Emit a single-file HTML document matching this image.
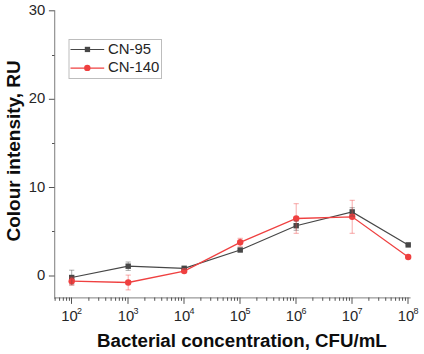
<!DOCTYPE html>
<html><head><meta charset="utf-8"><style>
html,body{margin:0;padding:0;background:#fff;width:424px;height:354px;overflow:hidden}
svg{display:block;font-family:"Liberation Sans",sans-serif;fill:#000}
text{fill:#262626}
text[font-weight=bold]{fill:#0d0d0d}
</style></head><body>
<svg width="424" height="354" viewBox="0 0 424 354">
<line x1="54.65" y1="10.2" x2="54.65" y2="298.5" stroke="#999" stroke-width="1.3"/>
<line x1="54" y1="297.85" x2="410.6" y2="297.85" stroke="#999" stroke-width="1.3"/>
<line x1="48.9" y1="276.00" x2="54.5" y2="276.00" stroke="#4a4a4a" stroke-width="0.95"/>
<line x1="48.9" y1="187.50" x2="54.5" y2="187.50" stroke="#4a4a4a" stroke-width="0.95"/>
<line x1="48.9" y1="99.30" x2="54.5" y2="99.30" stroke="#4a4a4a" stroke-width="0.95"/>
<line x1="48.9" y1="10.80" x2="54.5" y2="10.80" stroke="#4a4a4a" stroke-width="0.95"/>
<line x1="52.0" y1="231.50" x2="54.5" y2="231.50" stroke="#4a4a4a" stroke-width="0.95"/>
<line x1="52.0" y1="143.50" x2="54.5" y2="143.50" stroke="#4a4a4a" stroke-width="0.95"/>
<line x1="52.0" y1="55.50" x2="54.5" y2="55.50" stroke="#4a4a4a" stroke-width="0.95"/>
<line x1="71.50" y1="297.5" x2="71.50" y2="303.9" stroke="#4a4a4a" stroke-width="0.95"/>
<line x1="128.00" y1="297.5" x2="128.00" y2="303.9" stroke="#4a4a4a" stroke-width="0.95"/>
<line x1="184.00" y1="297.5" x2="184.00" y2="303.9" stroke="#4a4a4a" stroke-width="0.95"/>
<line x1="240.00" y1="297.5" x2="240.00" y2="303.9" stroke="#4a4a4a" stroke-width="0.95"/>
<line x1="296.00" y1="297.5" x2="296.00" y2="303.9" stroke="#4a4a4a" stroke-width="0.95"/>
<line x1="352.00" y1="297.5" x2="352.00" y2="303.9" stroke="#4a4a4a" stroke-width="0.95"/>
<line x1="408.00" y1="297.5" x2="408.00" y2="303.9" stroke="#4a4a4a" stroke-width="0.95"/>
<line x1="55.14" y1="297.5" x2="55.14" y2="300.8" stroke="#4a4a4a" stroke-width="0.95"/>
<line x1="59.58" y1="297.5" x2="59.58" y2="300.8" stroke="#4a4a4a" stroke-width="0.95"/>
<line x1="63.33" y1="297.5" x2="63.33" y2="300.8" stroke="#4a4a4a" stroke-width="0.95"/>
<line x1="66.57" y1="297.5" x2="66.57" y2="300.8" stroke="#4a4a4a" stroke-width="0.95"/>
<line x1="69.44" y1="297.5" x2="69.44" y2="300.8" stroke="#4a4a4a" stroke-width="0.95"/>
<line x1="88.86" y1="297.5" x2="88.86" y2="300.8" stroke="#4a4a4a" stroke-width="0.95"/>
<line x1="98.72" y1="297.5" x2="98.72" y2="300.8" stroke="#4a4a4a" stroke-width="0.95"/>
<line x1="105.72" y1="297.5" x2="105.72" y2="300.8" stroke="#4a4a4a" stroke-width="0.95"/>
<line x1="111.14" y1="297.5" x2="111.14" y2="300.8" stroke="#4a4a4a" stroke-width="0.95"/>
<line x1="115.58" y1="297.5" x2="115.58" y2="300.8" stroke="#4a4a4a" stroke-width="0.95"/>
<line x1="119.33" y1="297.5" x2="119.33" y2="300.8" stroke="#4a4a4a" stroke-width="0.95"/>
<line x1="122.57" y1="297.5" x2="122.57" y2="300.8" stroke="#4a4a4a" stroke-width="0.95"/>
<line x1="125.44" y1="297.5" x2="125.44" y2="300.8" stroke="#4a4a4a" stroke-width="0.95"/>
<line x1="144.86" y1="297.5" x2="144.86" y2="300.8" stroke="#4a4a4a" stroke-width="0.95"/>
<line x1="154.72" y1="297.5" x2="154.72" y2="300.8" stroke="#4a4a4a" stroke-width="0.95"/>
<line x1="161.72" y1="297.5" x2="161.72" y2="300.8" stroke="#4a4a4a" stroke-width="0.95"/>
<line x1="167.14" y1="297.5" x2="167.14" y2="300.8" stroke="#4a4a4a" stroke-width="0.95"/>
<line x1="171.58" y1="297.5" x2="171.58" y2="300.8" stroke="#4a4a4a" stroke-width="0.95"/>
<line x1="175.33" y1="297.5" x2="175.33" y2="300.8" stroke="#4a4a4a" stroke-width="0.95"/>
<line x1="178.57" y1="297.5" x2="178.57" y2="300.8" stroke="#4a4a4a" stroke-width="0.95"/>
<line x1="181.44" y1="297.5" x2="181.44" y2="300.8" stroke="#4a4a4a" stroke-width="0.95"/>
<line x1="200.86" y1="297.5" x2="200.86" y2="300.8" stroke="#4a4a4a" stroke-width="0.95"/>
<line x1="210.72" y1="297.5" x2="210.72" y2="300.8" stroke="#4a4a4a" stroke-width="0.95"/>
<line x1="217.72" y1="297.5" x2="217.72" y2="300.8" stroke="#4a4a4a" stroke-width="0.95"/>
<line x1="223.14" y1="297.5" x2="223.14" y2="300.8" stroke="#4a4a4a" stroke-width="0.95"/>
<line x1="227.58" y1="297.5" x2="227.58" y2="300.8" stroke="#4a4a4a" stroke-width="0.95"/>
<line x1="231.33" y1="297.5" x2="231.33" y2="300.8" stroke="#4a4a4a" stroke-width="0.95"/>
<line x1="234.57" y1="297.5" x2="234.57" y2="300.8" stroke="#4a4a4a" stroke-width="0.95"/>
<line x1="237.44" y1="297.5" x2="237.44" y2="300.8" stroke="#4a4a4a" stroke-width="0.95"/>
<line x1="256.86" y1="297.5" x2="256.86" y2="300.8" stroke="#4a4a4a" stroke-width="0.95"/>
<line x1="266.72" y1="297.5" x2="266.72" y2="300.8" stroke="#4a4a4a" stroke-width="0.95"/>
<line x1="273.72" y1="297.5" x2="273.72" y2="300.8" stroke="#4a4a4a" stroke-width="0.95"/>
<line x1="279.14" y1="297.5" x2="279.14" y2="300.8" stroke="#4a4a4a" stroke-width="0.95"/>
<line x1="283.58" y1="297.5" x2="283.58" y2="300.8" stroke="#4a4a4a" stroke-width="0.95"/>
<line x1="287.33" y1="297.5" x2="287.33" y2="300.8" stroke="#4a4a4a" stroke-width="0.95"/>
<line x1="290.57" y1="297.5" x2="290.57" y2="300.8" stroke="#4a4a4a" stroke-width="0.95"/>
<line x1="293.44" y1="297.5" x2="293.44" y2="300.8" stroke="#4a4a4a" stroke-width="0.95"/>
<line x1="312.86" y1="297.5" x2="312.86" y2="300.8" stroke="#4a4a4a" stroke-width="0.95"/>
<line x1="322.72" y1="297.5" x2="322.72" y2="300.8" stroke="#4a4a4a" stroke-width="0.95"/>
<line x1="329.72" y1="297.5" x2="329.72" y2="300.8" stroke="#4a4a4a" stroke-width="0.95"/>
<line x1="335.14" y1="297.5" x2="335.14" y2="300.8" stroke="#4a4a4a" stroke-width="0.95"/>
<line x1="339.58" y1="297.5" x2="339.58" y2="300.8" stroke="#4a4a4a" stroke-width="0.95"/>
<line x1="343.33" y1="297.5" x2="343.33" y2="300.8" stroke="#4a4a4a" stroke-width="0.95"/>
<line x1="346.57" y1="297.5" x2="346.57" y2="300.8" stroke="#4a4a4a" stroke-width="0.95"/>
<line x1="349.44" y1="297.5" x2="349.44" y2="300.8" stroke="#4a4a4a" stroke-width="0.95"/>
<line x1="368.86" y1="297.5" x2="368.86" y2="300.8" stroke="#4a4a4a" stroke-width="0.95"/>
<line x1="378.72" y1="297.5" x2="378.72" y2="300.8" stroke="#4a4a4a" stroke-width="0.95"/>
<line x1="385.72" y1="297.5" x2="385.72" y2="300.8" stroke="#4a4a4a" stroke-width="0.95"/>
<line x1="391.14" y1="297.5" x2="391.14" y2="300.8" stroke="#4a4a4a" stroke-width="0.95"/>
<line x1="395.58" y1="297.5" x2="395.58" y2="300.8" stroke="#4a4a4a" stroke-width="0.95"/>
<line x1="399.33" y1="297.5" x2="399.33" y2="300.8" stroke="#4a4a4a" stroke-width="0.95"/>
<line x1="402.57" y1="297.5" x2="402.57" y2="300.8" stroke="#4a4a4a" stroke-width="0.95"/>
<line x1="405.44" y1="297.5" x2="405.44" y2="300.8" stroke="#4a4a4a" stroke-width="0.95"/>
<text x="45.3" y="279.90" text-anchor="end" font-size="14.8">0</text>
<text x="45.3" y="191.65" text-anchor="end" font-size="14.8">10</text>
<text x="45.3" y="103.40" text-anchor="end" font-size="14.8">20</text>
<text x="45.3" y="15.15" text-anchor="end" font-size="14.8">30</text>
<text x="61.20" y="320.6" font-size="14.8" transform="translate(0,320.6) scale(1,1.05) translate(0,-320.6)">10<tspan dy="-6.0" dx="-0.6" font-size="9.0">2</tspan></text>
<text x="117.70" y="320.6" font-size="14.8" transform="translate(0,320.6) scale(1,1.05) translate(0,-320.6)">10<tspan dy="-6.0" dx="-0.6" font-size="9.0">3</tspan></text>
<text x="173.70" y="320.6" font-size="14.8" transform="translate(0,320.6) scale(1,1.05) translate(0,-320.6)">10<tspan dy="-6.0" dx="-0.6" font-size="9.0">4</tspan></text>
<text x="229.70" y="320.6" font-size="14.8" transform="translate(0,320.6) scale(1,1.05) translate(0,-320.6)">10<tspan dy="-6.0" dx="-0.6" font-size="9.0">5</tspan></text>
<text x="285.70" y="320.6" font-size="14.8" transform="translate(0,320.6) scale(1,1.05) translate(0,-320.6)">10<tspan dy="-6.0" dx="-0.6" font-size="9.0">6</tspan></text>
<text x="341.70" y="320.6" font-size="14.8" transform="translate(0,320.6) scale(1,1.05) translate(0,-320.6)">10<tspan dy="-6.0" dx="-0.6" font-size="9.0">7</tspan></text>
<text x="397.70" y="320.6" font-size="14.8" transform="translate(0,320.6) scale(1,1.05) translate(0,-320.6)">10<tspan dy="-6.0" dx="-0.6" font-size="9.0">8</tspan></text>
<text x="97" y="346.8" font-size="18.7" font-weight="bold">Bacterial concentration, CFU/mL</text>
<text transform="translate(20.2,241.5) rotate(-90)" x="0" y="0" font-size="19.0" font-weight="bold">Colour intensity, RU</text>
<rect x="69.0" y="39.5" width="92.5" height="39" fill="#fff" stroke="#bdbdbd" stroke-width="1"/>
<line x1="70.5" y1="49.5" x2="104.2" y2="49.5" stroke="#474747" stroke-width="1.1"/>
<rect x="84.8" y="46.8" width="5.3" height="5.3" fill="#474747"/>
<line x1="70.5" y1="68.1" x2="104.2" y2="68.1" stroke="#ef4040" stroke-width="1.1"/>
<circle cx="87.3" cy="67.9" r="3.2" fill="#ef4040"/>
<text x="108" y="53.8" font-size="14.9">CN-95</text>
<text x="108" y="72" font-size="14.9">CN-140</text>
<polyline points="71.70,277.50 128.20,266.20 184.20,268.30 240.20,250.00 296.20,225.70 352.20,211.90 408.20,244.90" fill="none" stroke="#474747" stroke-width="1.2"/>
<rect x="69.00" y="274.80" width="5.4" height="5.4" fill="#474747"/>
<rect x="125.50" y="263.50" width="5.4" height="5.4" fill="#474747"/>
<rect x="181.50" y="265.60" width="5.4" height="5.4" fill="#474747"/>
<rect x="237.50" y="247.30" width="5.4" height="5.4" fill="#474747"/>
<rect x="293.50" y="223.00" width="5.4" height="5.4" fill="#474747"/>
<rect x="349.50" y="209.20" width="5.4" height="5.4" fill="#474747"/>
<rect x="405.50" y="242.20" width="5.4" height="5.4" fill="#474747"/>
<polyline points="71.70,281.20 128.20,282.50 184.20,271.10 240.20,242.30 296.20,218.50 352.20,216.80 408.20,257.00" fill="none" stroke="#ef4040" stroke-width="1.3"/>
<circle cx="71.70" cy="281.20" r="3.2" fill="#ef4040"/>
<circle cx="128.20" cy="282.50" r="3.2" fill="#ef4040"/>
<circle cx="184.20" cy="271.10" r="3.2" fill="#ef4040"/>
<circle cx="240.20" cy="242.30" r="3.2" fill="#ef4040"/>
<circle cx="296.20" cy="218.50" r="3.2" fill="#ef4040"/>
<circle cx="352.20" cy="216.80" r="3.2" fill="#ef4040"/>
<circle cx="408.20" cy="257.00" r="3.2" fill="#ef4040"/>
<path d="M71.70 270.20V284.80M69.10 270.20H74.30M69.10 284.80H74.30" fill="none" stroke="#474747" stroke-width="0.9" opacity="0.5"/>
<path d="M128.20 262.00V270.40M125.60 262.00H130.80M125.60 270.40H130.80" fill="none" stroke="#474747" stroke-width="0.9" opacity="0.5"/>
<path d="M184.20 267.30V269.30M181.60 267.30H186.80M181.60 269.30H186.80" fill="none" stroke="#474747" stroke-width="0.9" opacity="0.5"/>
<path d="M240.20 249.00V251.00M237.60 249.00H242.80M237.60 251.00H242.80" fill="none" stroke="#474747" stroke-width="0.9" opacity="0.5"/>
<path d="M296.20 221.10V230.30M293.60 221.10H298.80M293.60 230.30H298.80" fill="none" stroke="#474747" stroke-width="0.9" opacity="0.5"/>
<path d="M352.20 207.70V216.10M349.60 207.70H354.80M349.60 216.10H354.80" fill="none" stroke="#474747" stroke-width="0.9" opacity="0.5"/>
<path d="M408.20 244.10V245.70M405.60 244.10H410.80M405.60 245.70H410.80" fill="none" stroke="#474747" stroke-width="0.9" opacity="0.5"/>
<path d="M71.70 277.20V285.20M69.10 277.20H74.30M69.10 285.20H74.30" fill="none" stroke="#ef4040" stroke-width="0.9" opacity="0.5"/>
<path d="M128.20 275.10V289.90M125.60 275.10H130.80M125.60 289.90H130.80" fill="none" stroke="#ef4040" stroke-width="0.9" opacity="0.5"/>
<path d="M184.20 270.10V272.10M181.60 270.10H186.80M181.60 272.10H186.80" fill="none" stroke="#ef4040" stroke-width="0.9" opacity="0.5"/>
<path d="M240.20 238.30V246.30M237.60 238.30H242.80M237.60 246.30H242.80" fill="none" stroke="#ef4040" stroke-width="0.9" opacity="0.5"/>
<path d="M296.20 203.70V233.30M293.60 203.70H298.80M293.60 233.30H298.80" fill="none" stroke="#ef4040" stroke-width="0.9" opacity="0.5"/>
<path d="M352.20 200.30V233.30M349.60 200.30H354.80M349.60 233.30H354.80" fill="none" stroke="#ef4040" stroke-width="0.9" opacity="0.5"/>
<path d="M408.20 256.20V257.80M405.60 256.20H410.80M405.60 257.80H410.80" fill="none" stroke="#ef4040" stroke-width="0.9" opacity="0.5"/>
</svg>
</body></html>
